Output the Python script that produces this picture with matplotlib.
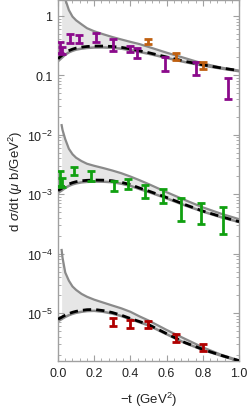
import numpy as np
import matplotlib
matplotlib.use("Agg")
import matplotlib.pyplot as plt
from matplotlib.ticker import LogLocator, MultipleLocator, FixedLocator, FixedFormatter, NullFormatter

plt.rcParams['font.family'] = ['Liberation Sans', 'DejaVu Sans']
plt.rcParams['mathtext.fontset'] = 'custom'
plt.rcParams['mathtext.rm'] = 'Liberation Sans'
plt.rcParams['mathtext.it'] = 'Liberation Sans:italic'

# common -t grid for the model curves
t_grid = [0.0, 0.02, 0.025, 0.04, 0.06, 0.08, 0.1, 0.13, 0.16, 0.2, 0.25,
          0.3, 0.35, 0.4, 0.45, 0.5, 0.6, 0.7, 0.8, 0.9, 1.0]

# top set (scale ~1)
top_upper = [np.nan, 4.2, 3.2, 1.9, 1.25, 0.97, 0.84, 0.72, 0.62, 0.55, 0.49,
             0.44, 0.40, 0.365, 0.335, 0.30, 0.24, 0.195, 0.158, 0.135, 0.12]
top_dash = [0.19, 0.215, 0.22, 0.24, 0.26, 0.275, 0.287, 0.298, 0.305, 0.31, 0.31,
            0.305, 0.295, 0.278, 0.258, 0.24, 0.203, 0.172, 0.15, 0.133, 0.12]
top_lower = [0.172, 0.196, 0.202, 0.222, 0.243, 0.258, 0.27, 0.281, 0.288, 0.293, 0.294,
             0.29, 0.28, 0.265, 0.247, 0.23, 0.196, 0.167, 0.146, 0.13, 0.117]

# middle set (scale ~1e-3)
mid_upper = [np.nan, 14.5e-3, 12.0e-3, 8.4e-3, 5.8e-3, 4.7e-3, 4.1e-3, 3.6e-3, 3.25e-3, 3.0e-3, 2.75e-3,
             2.5e-3, 2.25e-3, 1.98e-3, 1.72e-3, 1.48e-3, 1.08e-3, 0.8e-3, 0.6e-3, 0.47e-3, 0.38e-3]
mid_dash = [1.15e-3, 1.25e-3, 1.28e-3, 1.37e-3, 1.48e-3, 1.56e-3, 1.62e-3, 1.68e-3, 1.71e-3, 1.73e-3, 1.72e-3,
            1.68e-3, 1.58e-3, 1.45e-3, 1.27e-3, 1.13e-3, 0.88e-3, 0.67e-3, 0.52e-3, 0.42e-3, 0.345e-3]
mid_lower = [1.05e-3, 1.15e-3, 1.18e-3, 1.27e-3, 1.38e-3, 1.46e-3, 1.52e-3, 1.58e-3, 1.61e-3, 1.63e-3, 1.62e-3,
             1.59e-3, 1.5e-3, 1.38e-3, 1.22e-3, 1.09e-3, 0.85e-3, 0.65e-3, 0.51e-3, 0.41e-3, 0.34e-3]

# bottom set (scale ~1e-5)
bot_upper = [np.nan, 1.15e-4, 8.5e-5, 4.8e-5, 3.5e-5, 2.8e-5, 2.45e-5, 2.1e-5, 1.88e-5, 1.68e-5, 1.5e-5,
             1.34e-5, 1.2e-5, 1.05e-5, 8.8e-6, 7.5e-6, 5.2e-6, 3.7e-6, 2.65e-6, 2.0e-6, 1.6e-6]
bot_dash = [7.9e-6, 8.5e-6, 8.7e-6, 9.2e-6, 9.8e-6, 1.03e-5, 1.07e-5, 1.11e-5, 1.14e-5, 1.15e-5, 1.1e-5,
            1.02e-5, 9.2e-6, 8.1e-6, 7.2e-6, 6.4e-6, 4.5e-6, 3.2e-6, 2.45e-6, 1.95e-6, 1.58e-6]
bot_lower = [7.3e-6, 7.9e-6, 8.1e-6, 8.6e-6, 9.2e-6, 9.7e-6, 1.01e-5, 1.05e-5, 1.08e-5, 1.09e-5, 1.05e-5,
             0.98e-5, 8.9e-6, 7.9e-6, 7.0e-6, 6.2e-6, 4.4e-6, 3.15e-6, 2.4e-6, 1.92e-6, 1.55e-6]

# data points
purple_t = [0.011, 0.024, 0.066, 0.116, 0.208, 0.306, 0.398, 0.435, 0.591, 0.762, 0.941]
purple_y = [0.30, 0.26, 0.42, 0.41, 0.44, 0.33, 0.28, 0.24, 0.16, 0.135, 0.065]
purple_e = [0.06, 0.035, 0.07, 0.06, 0.075, 0.07, 0.03, 0.048, 0.04, 0.035, 0.025]

orange_t = [0.499, 0.652, 0.80]
orange_y = [0.37, 0.21, 0.15]
orange_e = [0.03, 0.027, 0.02]

green_t = [0.011, 0.024, 0.09, 0.182, 0.311, 0.388, 0.48, 0.578, 0.68, 0.79, 0.91]
green_y = [1.9e-3, 1.6e-3, 2.5e-3, 2.05e-3, 1.4e-3, 1.5e-3, 1.15e-3, 0.95e-3, 0.6e-3, 0.52e-3, 0.41e-3]
green_e = [0.55e-3, 0.3e-3, 0.4e-3, 0.4e-3, 0.27e-3, 0.3e-3, 0.3e-3, 0.25e-3, 0.25e-3, 0.2e-3, 0.2e-3]

red_t = [0.302, 0.398, 0.499, 0.652, 0.80]
red_y = [7.2e-6, 6.5e-6, 6.5e-6, 3.9e-6, 2.65e-6]
red_e = [1.1e-6, 1.0e-6, 0.9e-6, 0.6e-6, 0.38e-6]

ytick_vals = [1, 0.1, 1e-2, 1e-3, 1e-4, 1e-5]
ytick_labels = ['1', '0.1', r'$10^{-2}$', r'$10^{-3}$', r'$10^{-4}$', r'$10^{-5}$']

fig = plt.figure(figsize=(2.49, 4.10), dpi=100)
ax = fig.add_axes([0.233, 0.117, 0.727, 0.881])
ax.set_yscale('log')

t = np.array(t_grid)
band_color = '#e6e6e6'
line_gray = '#8a8a8a'
for up, dash, low in [(top_upper, top_dash, top_lower),
                      (mid_upper, mid_dash, mid_lower),
                      (bot_upper, bot_dash, bot_lower)]:
    up = np.array(up)
    low = np.array(low)
    ok = ~np.isnan(up)
    ax.fill_between(t[ok], low[ok], up[ok], color=band_color, lw=0, zorder=1)
    ax.plot(t[ok], up[ok], color=line_gray, lw=1.6, zorder=2)
    ax.plot(t, low, color=line_gray, lw=1.8, zorder=2)
    ax.plot(t, dash, color='black', lw=2.0, dashes=(3.0, 1.8), zorder=3)

for tt, yy, ee, col in [(purple_t, purple_y, purple_e, '#8b0a8b'),
                        (orange_t, orange_y, orange_e, '#c06010'),
                        (green_t, green_y, green_e, '#10a010'),
                        (red_t, red_y, red_e, '#b00000')]:
    ax.errorbar(tt, yy, yerr=ee, fmt='none', ecolor=col, elinewidth=2.0,
                capsize=2.6, capthick=2.0, zorder=4)

ax.set_xlim(0, 1.0)
ax.set_ylim(1.56e-6, 1.86)

ax.xaxis.set_major_locator(MultipleLocator(0.2))
ax.xaxis.set_minor_locator(MultipleLocator(0.04))
ax.xaxis.set_major_formatter(plt.FuncFormatter(lambda v, p: f'{v:.1f}'))
ax.yaxis.set_major_locator(FixedLocator(ytick_vals))
ax.yaxis.set_major_formatter(FixedFormatter(ytick_labels))
ax.yaxis.set_minor_locator(LogLocator(base=10, subs=np.arange(2, 10)))
ax.yaxis.set_minor_formatter(NullFormatter())

frame = '#a0a0a0'
for s in ax.spines.values():
    s.set_color(frame)
    s.set_linewidth(1.0)
ax.tick_params(which='both', direction='in', top=True, right=True, colors=frame,
               labelcolor='#222222', labelsize=9)
ax.tick_params(which='major', length=4, pad=4)
ax.tick_params(which='minor', length=2)

ax.set_xlabel(r'$-$t (GeV$^2$)', fontsize=9.5, color='#222222', labelpad=8)
ax.set_ylabel(r'd $\mathit{\sigma}$/dt ($\mathit{\mu}$ b/GeV$^2$)', fontsize=9.5, color='#222222', labelpad=1)

fig.savefig('out.png', dpi=100)
